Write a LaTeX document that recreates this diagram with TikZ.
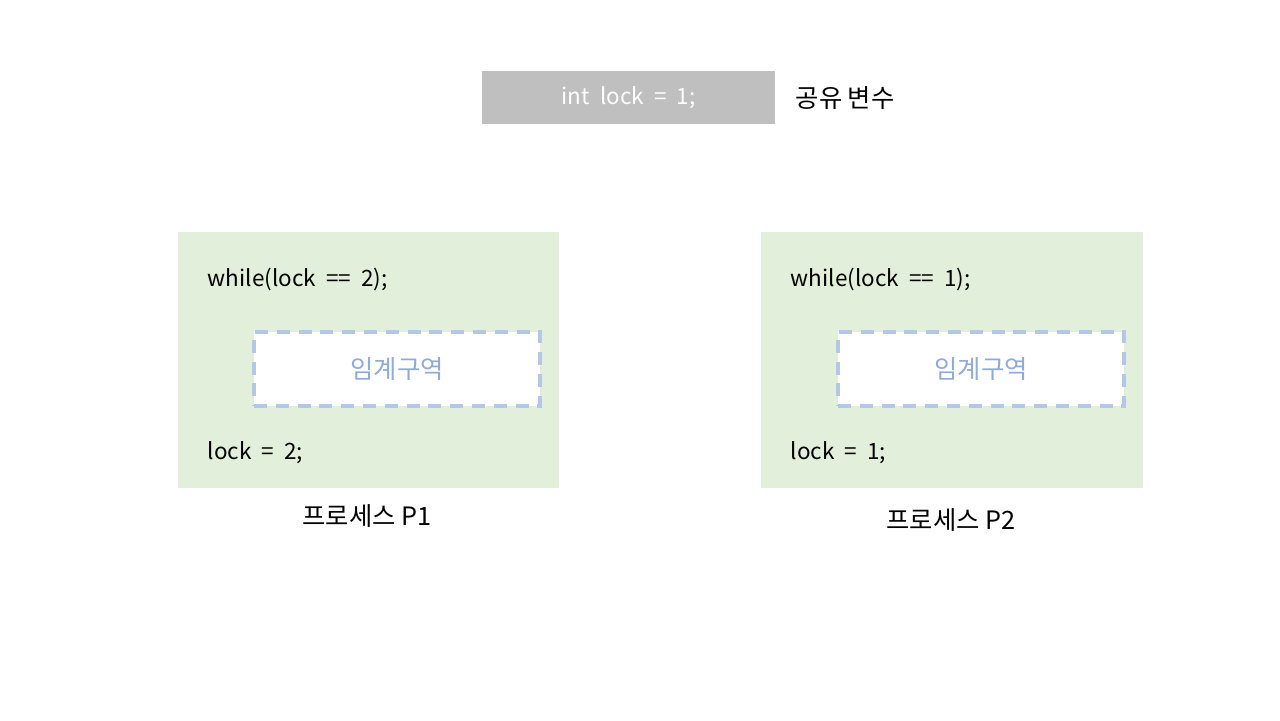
\documentclass[tikz,border=0pt]{standalone}
\usepackage{fontspec}
\setmainfont{Noto Sans CJK KR}
\newfontfamily\codefamily[WordSpace=2]{Noto Sans CJK KR}
\usetikzlibrary{positioning}
\definecolor{procgreen}{HTML}{E2EFDA}
\definecolor{sharedgray}{HTML}{BFBFBF}
\definecolor{critline}{HTML}{B4C7E7}
\definecolor{crittext}{HTML}{8FAADC}

\begin{document}
\begin{tikzpicture}[x=0.01cm,y=-0.01cm,
  txt/.style={font=\fontsize{7.2}{8}\selectfont,inner sep=0pt},
  code/.style={font=\codefamily\fontsize{6.4}{7}\selectfont,inner sep=0pt,anchor=west},
  procbox/.style={fill=procgreen,minimum width=3.81cm,minimum height=2.56cm,inner sep=0pt},
  critbox/.style={fill=white,draw=critline,dash pattern=on 3.7pt off 2.5pt,line width=1pt,
    minimum width=2.86cm,minimum height=0.74cm,inner sep=0pt,txt,text=crittext}]
  \useasboundingbox (0,0) rectangle (1280,720);
  % shared variable
  \node[fill=sharedgray,minimum width=2.93cm,minimum height=0.53cm,code,anchor=center,text=white]
    (lockvar) at (628.5,97.5) {int lock = 1;};
  \node[txt,anchor=west] (sharedlbl) at (795,98) {공유 변수};
  % process P1
  \node[procbox] (p1) at (368.5,360) {};
  \node[code] (p1while) at (207,279) {while(lock == 2);};
  \node[critbox] (p1crit) at (397,369) {임계구역};
  \node[code] (p1unlock) at (207,453) {lock = 2;};
  \node[txt] (p1lbl) at (367,516) {프로세스 P1};
  % process P2
  \node[procbox] (p2) at (952,360) {};
  \node[code] (p2while) at (790,279) {while(lock == 1);};
  \node[critbox] (p2crit) at (981,369) {임계구역};
  \node[code] (p2unlock) at (790,453) {lock = 1;};
  \node[txt] (p2lbl) at (951,520) {프로세스 P2};
\end{tikzpicture}
\end{document}
